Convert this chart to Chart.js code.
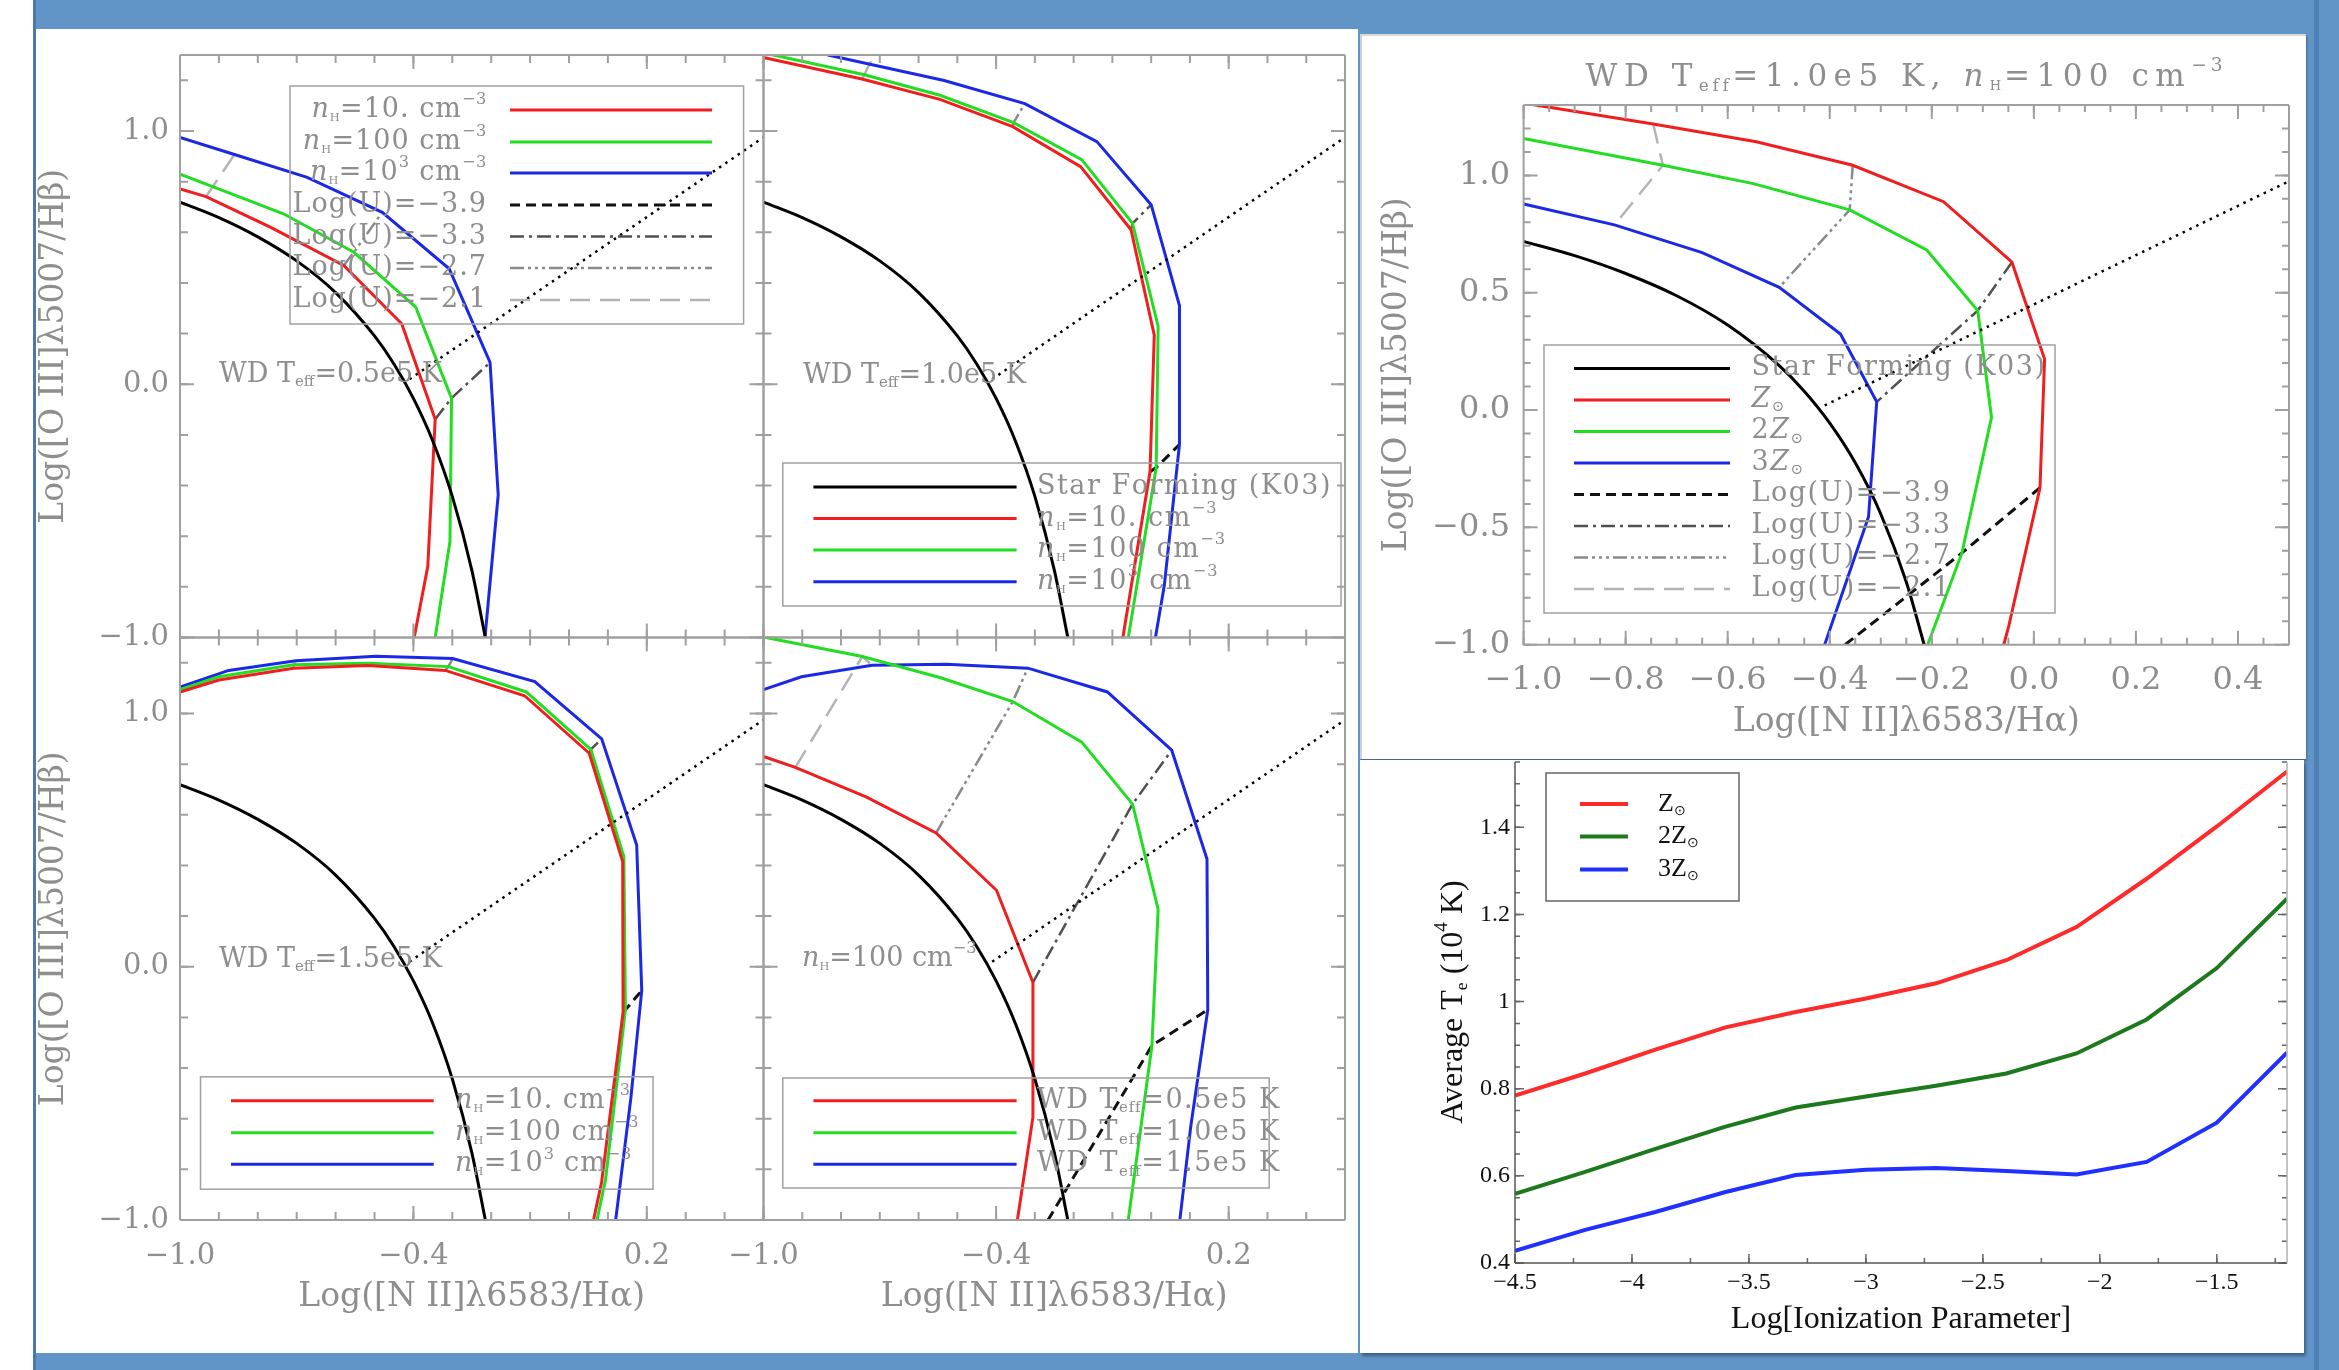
<!DOCTYPE html>
<html>
<head>
<meta charset="utf-8">
<title>WD photoionization grids</title>
<script src="https://cdn.jsdelivr.net/npm/chart.js@4.4.1/dist/chart.umd.min.js"></script>
<style>
html,body{margin:0;padding:0;background:#fff;width:2339px;height:1370px;overflow:hidden;position:relative}
.bg{position:absolute;left:33px;top:0;width:2306px;height:1370px;background:#6194c7}
.edgeL{position:absolute;left:33px;top:0;width:3px;height:1370px;background:#4b79ab}
.edgeR{position:absolute;left:2314px;top:0;width:5px;height:1370px;background:#4f80b6}
.panel{position:absolute;background:#fff}
#pL{left:36px;top:29px;width:1322px;height:1324px}
#pTR{left:1360px;top:34px;width:946px;height:725px;border-left:2px solid #cfcfcf;border-top:2px solid #d8d8d8;box-sizing:border-box;box-shadow:1px 2px 2px rgba(0,0,0,.3)}
#pBR{left:1360px;top:760px;width:944px;height:593px;box-shadow:2px 3px 3px rgba(0,0,0,.35)}
canvas{position:absolute;left:0;top:0}
</style>
</head>
<body>
<div class="bg"></div><div class="edgeL"></div><div class="edgeR"></div>
<div class="panel" id="pL"></div><div class="panel" id="pTR"></div><div class="panel" id="pBR"></div>
<canvas id="cTL" width="2339" height="1370"></canvas>
<canvas id="cTR" width="2339" height="1370"></canvas>
<canvas id="cBL" width="2339" height="1370"></canvas>
<canvas id="cBR" width="2339" height="1370"></canvas>
<canvas id="cZ" width="2339" height="1370"></canvas>
<canvas id="cTe" width="2339" height="1370"></canvas>
<script>
// ---- data: [log NII/Ha, log OIII/Hb] ----
const k03 = [[-1.0,0.719],[-0.9,0.658],[-0.8,0.582],[-0.7,0.487],[-0.6,0.362],[-0.5,0.191],[-0.45,0.08],[-0.4,-0.056],[-0.35,-0.225],[-0.3,-0.443],[-0.25,-0.733],[-0.215,-1.0]];
const seyLiner = [[-0.41,0.02],[0.5,0.975]];

// WD Teff = 0.5e5 K
const t05n10 = [[-1,0.771],[-0.933,0.741],[-0.768,0.62],[-0.579,0.469],[-0.43,0.239],[-0.344,-0.138],[-0.363,-0.719],[-0.398,-1.0]];
const t05n100 = [[-1,0.83],[-0.916,0.78],[-0.734,0.673],[-0.553,0.521],[-0.394,0.304],[-0.302,-0.055],[-0.306,-0.62],[-0.344,-1.0]];
const t05n1000 = [[-1,0.975],[-0.86,0.907],[-0.673,0.817],[-0.48,0.679],[-0.308,0.456],[-0.203,0.086],[-0.182,-0.437],[-0.216,-1.0]];
const t05u21 = [[-0.933,0.741],[-0.916,0.78],[-0.86,0.907]];
const t05u27 = [[-0.579,0.469],[-0.553,0.521],[-0.48,0.679]];
const t05u33 = [[-0.344,-0.138],[-0.302,-0.055],[-0.203,0.086]];

// WD Teff = 1.0e5 K
const t10n10 = [[-1,1.29],[-0.746,1.205],[-0.545,1.125],[-0.357,1.017],[-0.182,0.859],[-0.052,0.61],[0.008,0.194],[-0.003,-0.346],[-0.073,-1.0]];
const t10n100 = [[-0.99,1.305],[-0.74,1.222],[-0.545,1.141],[-0.355,1.033],[-0.179,0.887],[-0.048,0.635],[0.018,0.228],[0.013,-0.329],[-0.059,-1.0]];
const t10n1000 = [[-0.834,1.3],[-0.534,1.199],[-0.326,1.108],[-0.14,0.958],[0.0,0.709],[0.073,0.311],[0.073,-0.238],[0.034,-0.794],[0.011,-1.0]];
const t10u21 = [[-0.746,1.205],[-0.74,1.222],[-0.715,1.3]];
const t10u27 = [[-0.357,1.017],[-0.355,1.033],[-0.326,1.108]];
const t10u33 = [[-0.052,0.61],[-0.048,0.635],[0.0,0.709]];
const t10u39 = [[-0.003,-0.346],[0.013,-0.329],[0.073,-0.238]];

// WD Teff = 1.5e5 K
const t15n10 = [[-1,1.085],[-0.9,1.132],[-0.708,1.179],[-0.517,1.189],[-0.318,1.17],[-0.114,1.07],[0.052,0.843],[0.138,0.415],[0.139,-0.179],[0.084,-0.849],[0.063,-1.0]];
const t15n100 = [[-1,1.094],[-0.9,1.145],[-0.708,1.192],[-0.517,1.198],[-0.31,1.185],[-0.11,1.085],[0.056,0.858],[0.141,0.434],[0.145,-0.17],[0.094,-0.84],[0.072,-1.0]];
const t15n1000 = [[-1,1.104],[-0.875,1.17],[-0.702,1.208],[-0.497,1.226],[-0.299,1.217],[-0.088,1.126],[0.084,0.9],[0.174,0.481],[0.187,-0.094],[0.159,-0.519],[0.12,-1.0]];
const t15u21 = [[-0.708,1.179],[-0.708,1.192],[-0.702,1.208]];
const t15u27 = [[-0.318,1.17],[-0.31,1.185],[-0.299,1.217]];
const t15u33 = [[0.052,0.843],[0.056,0.858],[0.084,0.9]];
const t15u39 = [[0.139,-0.179],[0.145,-0.17],[0.187,-0.094]];

// nH = 100 cm-3, three WD temperatures
const n100t05 = [[-1,0.83],[-0.918,0.787],[-0.734,0.67],[-0.555,0.528],[-0.399,0.302],[-0.305,-0.062],[-0.305,-0.594],[-0.345,-1.0]];
const n100t10 = [[-1,1.302],[-0.745,1.225],[-0.545,1.142],[-0.357,1.047],[-0.179,0.887],[-0.048,0.642],[0.018,0.226],[0.002,-0.311],[-0.059,-1.0]];
const n100t15 = [[-1,1.094],[-0.902,1.145],[-0.72,1.19],[-0.529,1.194],[-0.318,1.179],[-0.113,1.085],[0.053,0.855],[0.144,0.425],[0.146,-0.17],[0.102,-0.632],[0.074,-1.0]];
const n100u21 = [[-0.918,0.787],[-0.745,1.225],[-0.72,1.19]];
const n100u27 = [[-0.555,0.528],[-0.357,1.047],[-0.318,1.179]];
const n100u33 = [[-0.305,-0.062],[-0.048,0.642],[0.053,0.855]];
const n100u39 = [[-0.266,-1.0],[0.002,-0.311],[0.146,-0.17]];

// WD 1.0e5 K, nH = 100, metallicity
const zSun = [[-1.0,1.308],[-0.746,1.219],[-0.544,1.143],[-0.355,1.043],[-0.177,0.888],[-0.043,0.63],[0.021,0.217],[0.012,-0.331],[-0.049,-0.919],[-0.059,-1.0]];
const z2Sun = [[-1,1.157],[-0.727,1.043],[-0.55,0.965],[-0.361,0.853],[-0.21,0.682],[-0.11,0.424],[-0.083,-0.031],[-0.141,-0.609],[-0.208,-1.0]];
const z3Sun = [[-1,0.878],[-0.822,0.789],[-0.65,0.671],[-0.499,0.523],[-0.379,0.324],[-0.308,0.035],[-0.324,-0.455],[-0.41,-1.0]];
const zU21 = [[-0.746,1.219],[-0.727,1.043],[-0.822,0.789]];
const zU27 = [[-0.355,1.043],[-0.361,0.853],[-0.499,0.523]];
const zU33 = [[-0.043,0.63],[-0.11,0.424],[-0.308,0.035]];
const zU39 = [[0.012,-0.331],[-0.141,-0.609],[-0.37,-1.0]];

// average electron temperature vs ionization parameter
const logU = [-4.5,-4.2,-3.9,-3.6,-3.3,-3.0,-2.7,-2.4,-2.1,-1.8,-1.5,-1.2];
const teZ1 = [0.784,0.835,0.890,0.941,0.976,1.007,1.042,1.095,1.171,1.282,1.402,1.528];
const teZ2 = [0.559,0.609,0.662,0.713,0.757,0.782,0.807,0.835,0.881,0.959,1.077,1.236];
const teZ3 = [0.428,0.476,0.517,0.563,0.602,0.614,0.618,0.611,0.603,0.632,0.722,0.883];

// tick labels
const bptXTicks = [-1.0,-0.4,0.2];
const bptXLabels = ['\u22121.0','\u22120.4','0.2'];
const bptYTicks = [-1.0,0.0,1.0];
const bptYLabels = ['\u22121.0','0.0','1.0'];
const zXTicks = [-1.0,-0.8,-0.6,-0.4,-0.2,0.0,0.2,0.4];
const zXLabels = ['\u22121.0','\u22120.8','\u22120.6','\u22120.4','\u22120.2','0.0','0.2','0.4'];
const zYTicks = [-1.0,-0.5,0.0,0.5,1.0];
const zYLabels = ['\u22121.0','\u22120.5','0.0','0.5','1.0'];
const teXTicks = [-4.5,-4,-3.5,-3,-2.5,-2,-1.5];
const teXLabels = ['\u22124.5','\u22124','\u22123.5','\u22123','\u22122.5','\u22122','\u22121.5'];
const teYTicks = [0.4,0.6,0.8,1.0,1.2,1.4];
const teYLabels = ['0.4','0.6','0.8','1','1.2','1.4'];

// ---- styling ----
const W = 2339, H = 1370;
const IDL = "'DejaVu Serif', serif";
const TIMES = "'Liberation Serif', 'Times New Roman', serif";
const TXT = '#8e8e8e';
const AX = '#a0a0a0';
const RED = '#f01e1e', GREEN = '#22dd22', BLUE = '#1b28e6';
const U39 = {c: '#111', d: [10, 6], w: 3};
const U33 = {c: '#505050', d: [14, 5, 3, 5], w: 2.5};
const U27 = {c: '#8a8a8a', d: [14, 4, 3, 4, 3, 4, 3, 4], w: 2.5};
const U21 = {c: '#b4b4b4', d: [20, 10], w: 2.5};

function steps(a, b, s) {
    const out = [];
    for (let v = a; v <= b + 1e-9; v += s) out.push(+v.toFixed(4));
    return out;
}

const KINDS = {n: [1, 0, ''], i: [1, 0, 'italic '], s: [0.55, 0.28, ''], h: [0.42, 0.3, ''], p: [0.6, -0.36, '']};
function rich(ctx, segs, x, y, size, family, color, align, ls) {
    ctx.fillStyle = color;
    ctx.textBaseline = 'middle';
    ctx.textAlign = 'left';
    const parts = segs.map(([txt, k]) => {
        const [sc, off, st] = KINDS[k];
        const font = st + (size * sc).toFixed(1) + 'px ' + family;
        ctx.font = font;
        const chars = ls ? [...txt].map(ch => [ch, ctx.measureText(ch).width + ls * sc]) : [[txt, ctx.measureText(txt).width]];
        return {font, off: off * size, chars};
    });
    const total = parts.reduce((s, p) => s + p.chars.reduce((q, c) => q + c[1], 0), 0);
    let cx = align === 'right' ? x - total : align === 'center' ? x - total / 2 : x;
    parts.forEach(p => {
        ctx.font = p.font;
        p.chars.forEach(([ch, w]) => { ctx.fillText(ch, cx, y + p.off); cx += w; });
    });
}

function decor(d) {
    return {
        id: 'decor',
        afterDatasetsDraw(chart) {
            const ctx = chart.ctx, a = chart.chartArea, xs = chart.scales.x, ys = chart.scales.y;
            ctx.save();
            const t = d.ticks;
            ctx.strokeStyle = t.color;
            ctx.lineWidth = t.width;
            ctx.setLineDash([]);
            const mark = (vals, len, isX, sides) => {
                vals.forEach(v => {
                    ctx.beginPath();
                    if (isX) {
                        const p = xs.getPixelForValue(v);
                        if (sides.includes('bottom')) { ctx.moveTo(p, a.bottom); ctx.lineTo(p, a.bottom - len); }
                        if (sides.includes('top')) { ctx.moveTo(p, a.top); ctx.lineTo(p, a.top + len); }
                    } else {
                        const p = ys.getPixelForValue(v);
                        if (sides.includes('left')) { ctx.moveTo(a.left, p); ctx.lineTo(a.left + len, p); }
                        if (sides.includes('right')) { ctx.moveTo(a.right, p); ctx.lineTo(a.right - len, p); }
                    }
                    ctx.stroke();
                });
            };
            mark(t.x.minor, t.minorLen, true, t.x.sides);
            mark(t.x.major, t.majorLen, true, t.x.sides);
            mark(t.y.minor, t.minorLen, false, t.y.sides);
            mark(t.y.major, t.majorLen, false, t.y.sides);

            const f = d.frame;
            ctx.lineWidth = f.width;
            [['top', a.left, a.top, a.right, a.top], ['bottom', a.left, a.bottom, a.right, a.bottom],
             ['left', a.left, a.top, a.left, a.bottom], ['right', a.right, a.top, a.right, a.bottom]].forEach(([s, x1, y1, x2, y2]) => {
                if (!f[s]) return;
                ctx.strokeStyle = f[s];
                ctx.beginPath(); ctx.moveTo(x1, y1); ctx.lineTo(x2, y2); ctx.stroke();
            });

            const L = d.legend;
            if (L) {
                ctx.strokeStyle = L.boxColor;
                ctx.lineWidth = L.boxWidth;
                ctx.strokeRect(L.box[0], L.box[1], L.box[2] - L.box[0], L.box[3] - L.box[1]);
                L.items.forEach((it, i) => {
                    const y = L.rows[i];
                    ctx.strokeStyle = it.c;
                    ctx.lineWidth = it.w;
                    ctx.setLineDash(it.d || []);
                    ctx.beginPath(); ctx.moveTo(L.lineX[0], y); ctx.lineTo(L.lineX[1], y); ctx.stroke();
                    ctx.setLineDash([]);
                    rich(ctx, it.segs, L.textX, y, L.size, L.family, L.color, L.align, L.ls || 0);
                });
            }
            (d.texts || []).forEach(tx => {
                ctx.save();
                ctx.translate(tx.x, tx.y);
                if (tx.rot) ctx.rotate(tx.rot);
                rich(ctx, tx.segs, 0, 0, tx.size, tx.family, tx.color, tx.align, tx.ls || 0);
                ctx.restore();
            });
            ctx.restore();
        }
    };
}

function ln(data, c, w, d, smooth) {
    return {data, showLine: true, borderColor: c, borderWidth: w, borderDash: d || [], pointRadius: 0,
        fill: false, tension: 0, cubicInterpolationMode: smooth ? 'monotone' : 'default'};
}
function uLine(data, u) { return ln(data, u.c, u.w, u.d); }

function axis(a, dir) {
    return {
        type: 'linear', min: a.min, max: a.max, display: a.display,
        grid: {display: false, drawTicks: false}, border: {display: false},
        afterBuildTicks: s => { s.ticks = a.ticks.map(v => ({value: v})); },
        afterFit: s => {
            if (!a.display) return;
            if (dir === 'x') s.height = a.h; else s.width = a.w;
        },
        ticks: {padding: a.pad, color: a.color, font: {family: a.family, size: a.size}, maxRotation: 0, autoSkip: false,
            callback: (v, i) => a.labels[i]},
        title: {display: !!a.title, text: a.title, color: a.color, padding: 0, font: {family: a.family, size: a.tsize}}
    };
}

function build(id, area, xa, ya, datasets, d) {
    return new Chart(document.getElementById(id), {
        type: 'scatter',
        data: {datasets},
        options: {
            responsive: false, animation: false, devicePixelRatio: 1,
            layout: {padding: {left: area.l - (ya.display ? ya.w : 0), top: area.t, right: W - area.r,
                bottom: H - area.b - (xa.display ? xa.h : 0)}},
            plugins: {legend: {display: false}, tooltip: {enabled: false}},
            scales: {x: axis(xa, 'x'), y: axis(ya, 'y')}
        },
        plugins: [decor(d)]
    });
}

// ---- shared pieces for the 2x2 grid ----
const gridX = {min: -1, max: 0.5, ticks: bptXTicks, labels: bptXLabels, pad: 18.6, h: 96.8, size: 29, tsize: 33,
    title: 'Log([N II]\u03bb6583/H\u03b1)', family: IDL, color: TXT};
const gridY = {min: -1, max: 1.3, ticks: bptYTicks, labels: bptYLabels, pad: 11, w: 145, size: 29, tsize: 33,
    title: 'Log([O III]\u03bb5007/H\u03b2)', family: IDL, color: TXT};
const gridTicks = {color: AX, width: 2, majorLen: 14, minorLen: 8,
    x: {major: bptXTicks, minor: steps(-1, 0.5, 0.1), sides: ['top', 'bottom']},
    y: {major: bptYTicks, minor: steps(-1, 1.3, 0.2), sides: ['left', 'right']}};
const gridFrame = {width: 2, top: AX, bottom: AX, left: AX, right: AX};

const nH10 = [['n', 'i'], ['H', 'h'], ['=10. cm', 'n'], ['\u22123', 'p']];
const nH100 = [['n', 'i'], ['H', 'h'], ['=100 cm', 'n'], ['\u22123', 'p']];
const nH1000 = [['n', 'i'], ['H', 'h'], ['=10', 'n'], ['3', 'p'], [' cm', 'n'], ['\u22123', 'p']];
const uSegs = v => [['Log(U)=\u2212' + v, 'n']];
const wdSegs = v => [['WD T', 'n'], ['eff', 's'], ['=' + v + 'e5 K', 'n']];
const nHItems = [{segs: nH10, c: RED, w: 3}, {segs: nH100, c: GREEN, w: 3}, {segs: nH1000, c: BLUE, w: 3}];
const uItems = [{segs: uSegs('3.9'), ...U39}, {segs: uSegs('3.3'), ...U33}, {segs: uSegs('2.7'), ...U27}, {segs: uSegs('2.1'), ...U21}];
const sfItem = {segs: [['Star Forming (K03)', 'n']], c: '#000', w: 3};

const base = () => [ln(k03, '#000', 3, null, true), ln(seyLiner, '#000', 2.5, [2.5, 5])];

// top-left: Teff 0.5e5 K
build('cTL', {l: 180, r: 763.5, t: 55, b: 637.5}, {...gridX, display: false}, {...gridY, display: true},
    [...base(), ln(t05n10, RED, 3), ln(t05n100, GREEN, 3), ln(t05n1000, BLUE, 3),
     uLine(t05u21, U21), uLine(t05u27, U27), uLine(t05u33, U33)],
    {ticks: gridTicks, frame: gridFrame,
     legend: {box: [290, 86, 743.6, 324], lineX: [510, 712], textX: 487, align: 'right', rows: [110, 142, 173, 205, 236.5, 268, 300],
         size: 27, ls: 1, family: IDL, color: TXT, boxColor: AX, boxWidth: 1.5, items: [...nHItems, ...uItems]},
     texts: [{segs: wdSegs('0.5'), x: 219, y: 374.6, size: 27, family: IDL, color: TXT, align: 'left'}]});

// top-right of grid: Teff 1.0e5 K
build('cTR', {l: 763.5, r: 1345, t: 55, b: 637.5}, {...gridX, display: false}, {...gridY, display: false},
    [...base(), ln(t10n10, RED, 3), ln(t10n100, GREEN, 3), ln(t10n1000, BLUE, 3),
     uLine(t10u21, U21), uLine(t10u27, U27), uLine(t10u33, U33), uLine(t10u39, U39)],
    {ticks: gridTicks, frame: gridFrame,
     legend: {box: [782.8, 463, 1341, 606], lineX: [813.4, 1016.6], textX: 1037, align: 'left', rows: [487, 518.5, 550, 581.7],
         size: 27, ls: 1.5, family: IDL, color: TXT, boxColor: AX, boxWidth: 1.5, items: [sfItem, ...nHItems]},
     texts: [{segs: wdSegs('1.0'), x: 803, y: 375.9, size: 27, family: IDL, color: TXT, align: 'left'}]});

// bottom-left: Teff 1.5e5 K
build('cBL', {l: 180, r: 763.5, t: 637.5, b: 1220}, {...gridX, display: true}, {...gridY, display: true},
    [...base(), ln(t15n10, RED, 3), ln(t15n100, GREEN, 3), ln(t15n1000, BLUE, 3),
     uLine(t15u21, U21), uLine(t15u27, U27), uLine(t15u33, U33), uLine(t15u39, U39)],
    {ticks: gridTicks, frame: gridFrame,
     legend: {box: [200.5, 1076.8, 653, 1189.2], lineX: [231, 433.7], textX: 455, align: 'left', rows: [1100.7, 1132.7, 1164.3],
         size: 27, ls: 1, family: IDL, color: TXT, boxColor: AX, boxWidth: 1.5, items: nHItems},
     texts: [{segs: wdSegs('1.5'), x: 219, y: 959.6, size: 27, family: IDL, color: TXT, align: 'left'}]});

// bottom-right of grid: nH = 100, three temperatures
build('cBR', {l: 763.5, r: 1345, t: 637.5, b: 1220}, {...gridX, display: true}, {...gridY, display: false},
    [...base(), ln(n100t05, RED, 3), ln(n100t10, GREEN, 3), ln(n100t15, BLUE, 3),
     uLine(n100u21, U21), uLine(n100u27, U27), uLine(n100u33, U33), uLine(n100u39, U39)],
    {ticks: gridTicks, frame: gridFrame,
     legend: {box: [782.8, 1078, 1269.2, 1188], lineX: [813.4, 1016.6], textX: 1037, align: 'left', rows: [1100.7, 1132.7, 1164.3],
         size: 27, ls: 1.5, family: IDL, color: TXT, boxColor: AX, boxWidth: 1.5,
         items: [{segs: wdSegs('0.5'), c: RED, w: 3}, {segs: wdSegs('1.0'), c: GREEN, w: 3}, {segs: wdSegs('1.5'), c: BLUE, w: 3}]},
     texts: [{segs: nH100, x: 802, y: 958.6, size: 27, family: IDL, color: TXT, align: 'left'}]});

// right top: metallicity
const zSegs = p => [[p, 'n'], ['Z', 'i'], ['\u2299', 's']];
build('cZ', {l: 1523.6, r: 2289, t: 105, b: 644.7},
    {min: -1, max: 0.5, ticks: zXTicks, labels: zXLabels, pad: 17.1, h: 97.1, size: 32, tsize: 33,
     title: 'Log([N II]\u03bb6583/H\u03b1)', family: IDL, color: TXT, display: true},
    {min: -1, max: 1.3, ticks: zYTicks, labels: zYLabels, pad: 13.6, w: 145.9, size: 32, tsize: 33,
     title: 'Log([O III]\u03bb5007/H\u03b2)', family: IDL, color: TXT, display: true},
    [...base(), ln(zSun, RED, 3), ln(z2Sun, GREEN, 3), ln(z3Sun, BLUE, 3),
     uLine(zU21, U21), uLine(zU27, U27), uLine(zU33, U33), uLine(zU39, U39)],
    {ticks: {color: AX, width: 2, majorLen: 14, minorLen: 7,
        x: {major: zXTicks, minor: steps(-1, 0.5, 0.05), sides: ['top', 'bottom']},
        y: {major: zYTicks, minor: steps(-1, 1.3, 0.1), sides: ['left', 'right']}},
     frame: gridFrame,
     legend: {box: [1544, 345, 2055, 613], lineX: [1574, 1730], textX: 1751.5, align: 'left',
         rows: [368.4, 399.9, 431.4, 462.9, 494.4, 525.9, 557.4, 588.9],
         size: 27, ls: 1.5, family: IDL, color: TXT, boxColor: AX, boxWidth: 1.5,
         items: [sfItem, {segs: zSegs(''), c: RED, w: 3}, {segs: zSegs('2'), c: GREEN, w: 3}, {segs: zSegs('3'), c: BLUE, w: 3}, ...uItems]},
     texts: [{segs: [['WD T', 'n'], ['eff', 's'], ['=1.0e5 K, ', 'n'], ['n', 'i'], ['H', 'h'], ['=100 cm', 'n'], ['\u22123', 'p']],
         x: 1906, y: 77.5, size: 31, family: IDL, color: TXT, align: 'center', ls: 6.5}]});

// right bottom: average electron temperature
const tePts = ys => logU.map((x, i) => ({x, y: ys[i]}));
const teSegs = p => [[p + 'Z', 'n'], ['\u2299', 's']];
build('cTe', {l: 1515, r: 2287, t: 762, b: 1263},
    {min: -4.5, max: -1.2, ticks: teXTicks, labels: teXLabels, pad: 5, h: 76.2, size: 24, tsize: 32,
     title: 'Log[Ionization Parameter]', family: TIMES, color: '#111', display: true},
    {min: 0.4, max: 1.55, ticks: teYTicks, labels: teYLabels, pad: 5, w: 60, size: 24, tsize: 32,
     title: '', family: TIMES, color: '#111', display: true},
    [ln(tePts(teZ1), '#ff2a2a', 4), ln(tePts(teZ2), '#1c7a1c', 4), ln(tePts(teZ3), '#2030ff', 4)],
    {ticks: {color: '#666', width: 1.5, majorLen: 9, minorLen: 5,
        x: {major: teXTicks, minor: steps(-4.5, -1.2, 0.25), sides: ['bottom']},
        y: {major: teYTicks, minor: steps(0.4, 1.55, 0.05), sides: ['left', 'right']}},
     frame: {width: 1.5, bottom: '#555', left: '#555', right: '#b0b0b0'},
     legend: {box: [1546, 773, 1739, 901], lineX: [1580, 1628], textX: 1658, align: 'left', rows: [804, 836.4, 869.4],
         size: 26, family: TIMES, color: '#111', boxColor: '#666', boxWidth: 1.5,
         items: [{segs: teSegs(''), c: '#ff2a2a', w: 4}, {segs: teSegs('2'), c: '#1c7a1c', w: 4}, {segs: teSegs('3'), c: '#2030ff', w: 4}]},
     texts: [{segs: [['Average T', 'n'], ['e', 's'], [' (10', 'n'], ['4', 'p'], [' K)', 'n']],
         x: 1453.7, y: 1002, rot: -Math.PI / 2, size: 32, family: TIMES, color: '#111', align: 'center'}]});
</script>
</body>
</html>
